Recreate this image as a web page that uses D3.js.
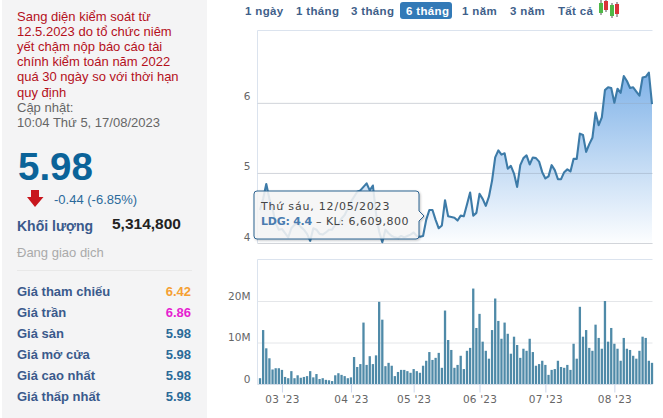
<!DOCTYPE html>
<html><head><meta charset="utf-8">
<script src="https://cdn.jsdelivr.net/npm/d3@7"></script>
<style>
html,body{margin:0;padding:0;background:#fff;overflow:hidden}
svg{display:block}
text{font-family:"Liberation Sans",Arial,sans-serif}
.ax text{font-family:"DejaVu Sans",sans-serif;font-size:10.5px;fill:#666}
</style></head><body>
<svg id="c" width="663" height="418"></svg>
<script>
const prices=[4.47,4.63,4.84,4.63,4.49,4.28,4.19,4.20,4.14,4.08,4.21,4.26,4.28,4.23,4.19,4.13,4.03,4.21,4.19,4.13,
4.12,4.15,4.19,4.19,4.26,4.26,4.35,4.40,4.49,4.59,4.66,4.73,4.75,4.80,4.85,4.75,4.82,4.42,4.16,4.01,
4.19,4.14,4.10,4.08,4.07,4.10,4.08,4.10,4.12,4.15,4.10,4.09,4.10,4.33,4.47,4.47,4.33,4.21,
4.25,4.61,4.38,4.37,4.36,4.32,4.39,4.38,4.55,4.72,4.39,4.43,4.70,4.63,4.53,4.66,4.89,5.22,5.32,5.26,5.28,5.06,
5.10,4.99,4.80,5.11,5.21,5.25,5.12,5.22,5.21,5.16,5.01,4.92,4.95,5.11,5.04,4.91,4.91,5.01,5.05,5.02,
5.20,5.20,5.56,5.54,5.30,5.41,5.50,5.86,5.68,5.79,6.18,6.22,6.21,6.00,6.20,6.14,6.38,6.31,6.21,6.22,
6.16,6.10,6.36,6.37,6.43,5.98];
const volumesM=[1.4,13,8.6,6.2,3.5,3.8,3.8,3.4,1.7,1.4,3.1,1.4,2.1,1.5,1.7,1.9,3.1,1.6,2.4,1.2,
1.4,1.0,0.9,0.7,2.1,2.6,2.2,1.9,1.4,1.6,6.5,4.1,4.8,14.8,4.6,6.7,4.8,6.9,19.8,15.5,
4.3,5.1,4.4,1.9,2.9,3.4,3.4,3.1,2.7,3.6,3.1,2.7,4.4,5.6,7.7,5.8,6.3,7.5,3.9,17.7,
10.6,8.2,3.9,4.6,6.8,3.6,8,8.7,23,13.5,16.9,10.2,8,6.1,13,20.6,15.2,10.9,14.8,12.1,
7.3,11.4,9.4,6.3,8.5,8,10.9,7.7,4.4,4.8,5.6,4.6,2.2,3.4,3.6,5.6,4.1,3.9,4.6,3.4,
9.7,6.1,18.6,11.4,13,8.7,8,14.3,11.1,8.5,20,10.2,13.5,9.7,8.5,5.6,11.1,8.5,8.2,6.8,
6.1,8,11.4,11.1,5.6,5.1];
const monthTicks=[7,29,49,70,91,113];
const monthLabels=["03 '23","04 '23","05 '23","06 '23","07 '23","08 '23"];
const priceTicks=[4,5,6];
const volumeTicks=[0,10,20];
const navLabels=["1 ngày","1 tháng","3 tháng","6 tháng","1 năm","3 năm","Tất cả"];
const noticeLines=["Sang diện kiểm soát từ","12.5.2023 do tổ chức niêm","yết chậm nộp báo cáo tài","chính kiểm toán năm 2022","quá 30 ngày so với thời hạn","quy định"];
const updateLines=["Cập nhật:","10:04 Thứ 5, 17/08/2023"];
const statLabels=["Giá tham chiếu","Giá trần","Giá sàn","Giá mở cửa","Giá cao nhất","Giá thấp nhất"];
const statValues=["6.42","6.86","5.98","5.98","5.98","5.98"];
const statColors=["#f5a033","#e61fd0","#2a6a98","#2a6a98","#2a6a98","#2a6a98"];

const svg=d3.select("#c");
const defs=svg.append("defs");
const grad=defs.append("linearGradient").attr("id","g").attr("gradientUnits","userSpaceOnUse").attr("x1",0).attr("x2",0).attr("y1",72).attr("y2",243);
grad.append("stop").attr("offset",0).attr("stop-color","#7fb2e8");
grad.append("stop").attr("offset",1).attr("stop-color","#7fb2e8").attr("stop-opacity",0.02);
const sh=defs.append("filter").attr("id","sh").attr("x","-5%").attr("y","-10%").attr("width","115%").attr("height","130%");
sh.append("feDropShadow").attr("dx",1).attr("dy",1).attr("stdDeviation",1.2).attr("flood-opacity",0.25);

// left panel
svg.append("rect").attr("x",2).attr("y",0).attr("width",205).attr("height",418).attr("fill","#f4f4f5");
const T=(x,y,s,size,col,w,anchor)=>svg.append("text").attr("x",x).attr("y",y).attr("font-size",size).attr("fill",col)
  .attr("font-weight",w||"normal").attr("text-anchor",anchor||"start").text(s);
noticeLines.forEach((s,i)=>T(17,20.5+15.2*i,s,13,"#b4101c"));
updateLines.forEach((s,i)=>T(17,111.5+15*i,s,13,"#666"));
T(18,180,"5.98",38.5,"#0b6399","bold");
svg.append("path").attr("d","M31 190H39V197H43.5L35 207L27 197H31Z").attr("fill","#c8161d");
T(54,204,"-0.44 (-6.85%)",13,"#2b6a9b");
T(17,231,"Khối lượng",14,"#3a5a8c","bold");
T(112,228.5,"5,314,800",15.5,"#222","bold");
T(17,257,"Đang giao dịch",13,"#aaa");
svg.append("line").attr("x1",17).attr("x2",192).attr("y1",270.5).attr("y2",270.5).attr("stroke","#e8e8e8");
statLabels.forEach((s,i)=>{
  const y=296+21*i;
  T(17,y,s,13,"#3a5a8c","bold");
  T(191,y,statValues[i],13,statColors[i],"bold","end");
});

// nav
const navX=[245,296,351,406,462,510,558];
svg.append("rect").attr("x",400).attr("y",2).attr("width",52).attr("height",17).attr("rx",3).attr("fill","#337ab7");
navLabels.forEach((s,i)=>T(navX[i],14.5,s,11.5,i===3?"#fff":"#3f5f8a","bold").attr("letter-spacing",0.35));
const candles=[[601,"#4fb848",0,15,3,13],[606,"#d9343a",0,12,1,10],[612,"#4fb848",3,18,5,16],[617,"#d9343a",2,17,4,14]];
candles.forEach(c=>{
  svg.append("line").attr("x1",c[0]).attr("x2",c[0]).attr("y1",c[2]).attr("y2",c[3]).attr("stroke","#555");
  svg.append("rect").attr("x",c[0]-2).attr("y",c[4]).attr("width",4).attr("height",c[5]-c[4]).attr("fill",c[1]);
});

// scales
const L=257.5,R=652.5;
const x=d3.scaleLinear().domain([0,prices.length-1]).range([260,652]);
const y=d3.scaleLinear().domain([4,7.03]).range([243,30.5]);
const yv=d3.scaleLinear().domain([0,30]).range([384,259.5]);

// price axis/grids
const ga=svg.append("g").attr("class","ax").attr("transform",`translate(${L},0)`)
  .call(d3.axisLeft(y).tickValues(priceTicks).tickFormat(d3.format("d")).tickSize(0).tickPadding(0));
ga.select(".domain").remove();
ga.selectAll(".tick text").attr("x",-7).attr("dy",0).attr("y",-3);
ga.selectAll(".tick").append("line").attr("x1",0).attr("x2",R-L).attr("stroke","#e4e6e9");
svg.append("path").attr("d",d3.line()([[L,243],[L,30.5],[R,30.5]])).attr("fill","none").attr("stroke","#dbe3ee");

svg.append("path").datum(prices).attr("fill","url(#g)")
  .attr("d",d3.area().x((d,i)=>x(i)).y0(y(4)).y1(d=>y(d)));
svg.append("g").attr("transform",`translate(${L},0)`).selectAll("line").data(priceTicks).join("line")
  .attr("x1",0).attr("x2",R-L).attr("y1",d=>Math.round(y(d))+.5).attr("y2",d=>Math.round(y(d))+.5).attr("stroke","#9aa5b0").attr("stroke-opacity",0.25);
svg.append("path").datum(prices).attr("fill","none").attr("stroke","#3d7ba8").attr("stroke-width",2.1).attr("stroke-linejoin","round")
  .attr("d",d3.line().x((d,i)=>x(i)).y(d=>y(d)));

// volume axis
const gv=svg.append("g").attr("class","ax").attr("transform",`translate(${L},0)`)
  .call(d3.axisLeft(yv).tickValues(volumeTicks).tickFormat(d=>d?d+"M":"0").tickSize(0).tickPadding(0));
gv.select(".domain").remove();
gv.selectAll(".tick text").attr("x",-7).attr("y",-2).attr("dy",0);
gv.selectAll(".tick").append("line").attr("x1",0).attr("x2",R-L).attr("stroke","#e4e6e9");
svg.append("path").attr("d",d3.line()([[L,384],[L,259.5],[R,259.5]])).attr("fill","none").attr("stroke","#dbe3ee");
svg.append("g").selectAll("rect").data(volumesM).join("rect")
  .attr("x",(d,i)=>x(i)-1.15).attr("width",2.3).attr("y",d=>yv(d)).attr("height",d=>yv(0)-yv(d)).attr("fill","#4f8aa8");

// month axis
const gx=svg.append("g").attr("class","ax").attr("transform","translate(0,384.5)")
  .call(d3.axisBottom(x).tickValues(monthTicks).tickFormat((d,i)=>monthLabels[i]).tickSize(8).tickPadding(1));
gx.select(".domain").attr("stroke","#d5dde8").attr("d",`M${L},0H${R}`);
gx.selectAll(".tick line").attr("stroke","#ccd6eb");
gx.selectAll(".tick text").attr("dy","0.9em").attr("letter-spacing",0.2);

// tooltip
const tg=svg.append("g");
tg.append("path").attr("d","M257 191H416Q419 191 419 194V211L424 216L419 221V236Q419 239 416 239H257Q254 239 254 236V194Q254 191 257 191Z")
  .attr("fill","#f8f8f8").attr("fill-opacity",0.85).attr("stroke","#2f6490").attr("stroke-width",1).attr("filter","url(#sh)");
tg.append("text").attr("x",261).attr("y",210).attr("font-size",11).attr("fill","#444").attr("letter-spacing",0.8)
  .style("font-family","'DejaVu Sans',sans-serif").text("Thứ sáu, 12/05/2023");
const tip2=tg.append("text").attr("x",261).attr("y",225).attr("font-size",11).attr("fill","#444")
  .style("font-family","'DejaVu Sans',sans-serif");
tip2.append("tspan").attr("font-weight","bold").attr("fill","#4a7cb0").attr("letter-spacing",-0.25).text("LDG: 4.4");
tip2.append("tspan").attr("letter-spacing",0.5).text(" – KL: 6,609,800");
</script></body></html>
